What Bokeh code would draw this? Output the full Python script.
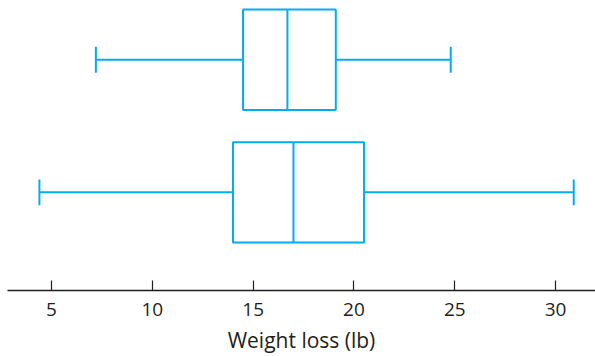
from bokeh.plotting import figure
from bokeh.models import Range1d, FixedTicker
from bokeh.embed import file_html
from bokeh.resources import INLINE

# Data (top group first)
groups = ["Group 1", "Group 2"]
minimum = [7.2, 4.4]
q1 = [14.5, 14.0]
median = [16.7, 17.0]
q3 = [19.1, 20.5]
maximum = [24.8, 30.9]
x_ticks = [5, 10, 15, 20, 25, 30]
x_label = "Weight loss (lb)"

# group positions from order: top group highest
ypos = [len(groups) - i for i in range(len(groups))]

BOX_H = 0.757
CAP_H = 0.195
COLOR = "#00aeef"
TEXT = "#231f20"
FONT = "Open Sans"

p = figure(width=595, height=356, output_backend="svg", toolbar_location=None,
           x_range=Range1d(2.817, 31.98), y_range=Range1d(0.26, 2.447),
           min_border_left=7, min_border_right=0, min_border_top=0,
           min_border_bottom=64, y_axis_location=None)

p.hbar(y=ypos, height=BOX_H, left=q1, right=q3, fill_color="white",
       line_color=COLOR, line_width=2)
p.segment(x0=median, y0=[y - BOX_H / 2 for y in ypos], x1=median,
          y1=[y + BOX_H / 2 for y in ypos], line_color=COLOR, line_width=2)
p.segment(x0=minimum, y0=ypos, x1=q1, y1=ypos, line_color=COLOR, line_width=2)
p.segment(x0=q3, y0=ypos, x1=maximum, y1=ypos, line_color=COLOR, line_width=2)
p.segment(x0=minimum, y0=[y - CAP_H / 2 for y in ypos], x1=minimum,
          y1=[y + CAP_H / 2 for y in ypos], line_color=COLOR, line_width=2)
p.segment(x0=maximum, y0=[y - CAP_H / 2 for y in ypos], x1=maximum,
          y1=[y + CAP_H / 2 for y in ypos], line_color=COLOR, line_width=2)

ax = p.xaxis[0]
ax.ticker = FixedTicker(ticks=x_ticks)
ax.major_tick_in = 10
ax.major_tick_out = 0
ax.minor_tick_line_color = None
ax.axis_line_color = TEXT
ax.axis_line_width = 1.3
ax.major_tick_line_color = TEXT
ax.major_tick_line_width = 1.2
ax.major_label_text_font = FONT
ax.major_label_text_font_size = "19px"
ax.major_label_text_color = TEXT
ax.major_label_standoff = 12
ax.axis_label = x_label
ax.axis_label_text_font = FONT
ax.axis_label_text_font_size = "21px"
ax.axis_label_text_font_style = "normal"
ax.axis_label_text_color = TEXT
ax.axis_label_standoff = 7

p.grid.visible = False
p.outline_line_color = None

open("out.html", "w").write(file_html(p, INLINE))
